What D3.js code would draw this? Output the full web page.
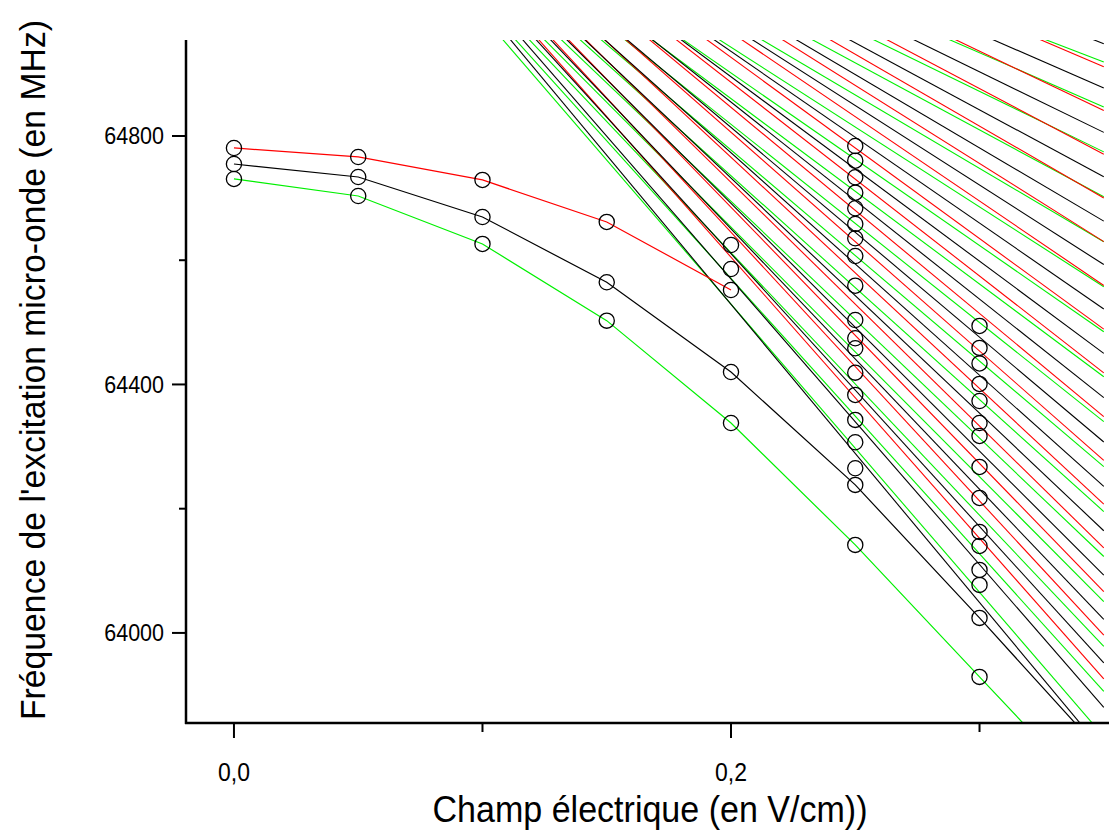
<!DOCTYPE html>
<html><head><meta charset="utf-8">
<script src="https://cdn.jsdelivr.net/npm/d3@7"></script>
<style>body{margin:0;background:#fff}svg{display:block}text{font-family:"Liberation Sans",Arial,sans-serif}</style>
</head><body>
<svg id="c" width="1109" height="832"></svg>
<script>
// ---- data (E in V/cm, frequency in MHz) ----
const xMajorTicks = [0, 0.2];
const xMajorLabels = ["0,0", "0,2"];
const xMinorTicks = [0.1, 0.3];
const yMajorTicks = [64000, 64400, 64800];
const yMinorTicks = [64200, 64600];

// measured points joined by polylines
const curveE = [0, 0.05, 0.1, 0.15, 0.2, 0.25, 0.3, 0.35];
const redCurve = [64780.7, 64766.2, 64729.2, 64661.6, 64552.1];
const blackCurve = [64754.9, 64734.0, 64669.6, 64564.5, 64420.1, 64238.3, 64024.2, 63804];
const greenCurve = [64730.8, 64703.4, 64626.2, 64502.7, 64338.0, 64141.7, 63929.2, 63717];

// extra measured points at E = 0.2, 0.25, 0.3
const pts020 = [64624.5, 64585.9];
const pts025 = [64783.9, 64760.2, 64733.5, 64708.7, 64683.6, 64658.3, 64635.3, 64606.8, 64559.0,
                64503.8, 64474.4, 64458.3, 64419.0, 64383.1, 64342.9, 64307.0, 64265.1];
const pts030 = [64494.2, 64458.8, 64433.8, 64400.8, 64373.4, 64338.0, 64317.1, 64267.2, 64217.3,
                64162.6, 64140.0, 64101.4, 64077.3];

// theoretical Stark lines: frequency at E = 0 (common origin) and at E = 0.35
const fanE = [0, 0.35];
const blackOrigin = 65489;
const blackEnd = [64948.6, 64877.1, 64805.8, 64734.3, 64662.9, 64593.0, 64521.5, 64450.1, 64378.8,
                  64307.3, 64235.9, 64164.5, 64093.2, 64021.7, 63951.7, 63880.3, 63808.9];
const redOrigin = 65510;
const redEnd = [64911.4, 64841.0, 64770.7, 64700.2, 64629.9, 64559.4, 64489.0, 64418.7, 64348.3,
                64277.8, 64207.5, 64137.0, 64066.6, 63996.3, 63926.0];
const greenOrigin = 65457;
const greenEnd = [64919.1, 64846.8, 64774.4, 64702.0, 64629.7, 64557.3, 64484.8, 64412.5, 64340.1,
                  64267.7, 64195.4, 64123.0, 64050.5, 63978.3, 63905.8, 63833.4];

// ---- drawing ----
const svg = d3.select("#c");
const L = 186, R = 1109, T = 40, B = 723;
const x = d3.scaleLinear().domain([-0.0193, 0.3521]).range([L, R]);
const y = d3.scaleLinear().domain([63855, 64954.5]).range([B, T]);
const GREEN = "#00f000", RED = "#ff0000", BLACK = "#000000";

svg.append("defs").append("clipPath").attr("id", "clip")
  .append("rect").attr("x", L).attr("y", T).attr("width", R - L).attr("height", B - T);

const plot = svg.append("g").attr("clip-path", "url(#clip)");
const line = d3.line().x(d => x(d[0])).y(d => y(d[1]));

function fan(origin, ends, color) {
  plot.append("g").selectAll("path").data(ends).join("path")
    .attr("d", e => line([[fanE[0], origin], [fanE[1], e]]))
    .attr("fill", "none").attr("stroke", color).attr("stroke-width", 1.1);
}
fan(greenOrigin, greenEnd, GREEN);
fan(redOrigin, redEnd, RED);
fan(blackOrigin, blackEnd, BLACK);

function curve(vals, color) {
  plot.append("path").datum(vals.map((v, i) => [curveE[i], v]))
    .attr("d", line).attr("fill", "none").attr("stroke", color).attr("stroke-width", 1.2);
}
curve(greenCurve, GREEN);
curve(redCurve, RED);
curve(blackCurve, BLACK);

// circles
const circ = [];
[redCurve, blackCurve, greenCurve].forEach(c => c.forEach((v, i) => { if (curveE[i] <= 0.3) circ.push([curveE[i], v]); }));
pts020.forEach(v => circ.push([0.2, v]));
pts025.forEach(v => circ.push([0.25, v]));
pts030.forEach(v => circ.push([0.3, v]));
plot.append("g").selectAll("circle").data(circ).join("circle")
  .attr("cx", d => x(d[0])).attr("cy", d => y(d[1])).attr("r", 7.6)
  .attr("fill", "none").attr("stroke", "#000").attr("stroke-width", 1.3);

// axes
const ax = svg.append("g");
ax.append("line").attr("x1", L).attr("x2", L).attr("y1", T).attr("y2", B + 1).attr("stroke", "#000").attr("stroke-width", 2.5);
ax.append("line").attr("x1", L - 1).attr("x2", R).attr("y1", B).attr("y2", B).attr("stroke", "#000").attr("stroke-width", 2.5);

ax.selectAll(".xt").data(xMajorTicks).join("line")
  .attr("x1", d => x(d)).attr("x2", d => x(d)).attr("y1", B).attr("y2", B + 15)
  .attr("stroke", "#000").attr("stroke-width", 2);
ax.selectAll(".xm").data(xMinorTicks).join("line")
  .attr("x1", d => x(d)).attr("x2", d => x(d)).attr("y1", B).attr("y2", B + 9)
  .attr("stroke", "#000").attr("stroke-width", 2);
ax.selectAll(".xl").data(xMajorTicks).join("text")
  .attr("transform", d => `translate(${x(d)},781) scale(1,1.12)`).attr("text-anchor", "middle")
  .attr("font-size", 23).text((d, i) => xMajorLabels[i]);

ax.selectAll(".yt").data(yMajorTicks).join("line")
  .attr("x1", L - 14).attr("x2", L).attr("y1", d => y(d)).attr("y2", d => y(d))
  .attr("stroke", "#000").attr("stroke-width", 2);
ax.selectAll(".ym").data(yMinorTicks).join("line")
  .attr("x1", L - 7).attr("x2", L).attr("y1", d => y(d)).attr("y2", d => y(d))
  .attr("stroke", "#000").attr("stroke-width", 2);
ax.selectAll(".yl").data(yMajorTicks).join("text")
  .attr("transform", d => `translate(164,${y(d) + 8.5}) scale(1,1.08)`).attr("text-anchor", "end")
  .attr("font-size", 21.5).text(d => d);

svg.append("text").attr("transform", "translate(650,822) scale(1,1.1)").attr("text-anchor", "middle")
  .attr("font-size", 33).attr("textLength", 435).attr("lengthAdjust", "spacingAndGlyphs")
  .text("Champ électrique (en V/cm))");
svg.append("text").attr("transform", "translate(45,370) rotate(-90) scale(1,1.1)").attr("text-anchor", "middle")
  .attr("font-size", 32).attr("textLength", 700).attr("lengthAdjust", "spacingAndGlyphs")
  .text("Fréquence de l'excitation micro-onde (en MHz)");
</script>
</body></html>
